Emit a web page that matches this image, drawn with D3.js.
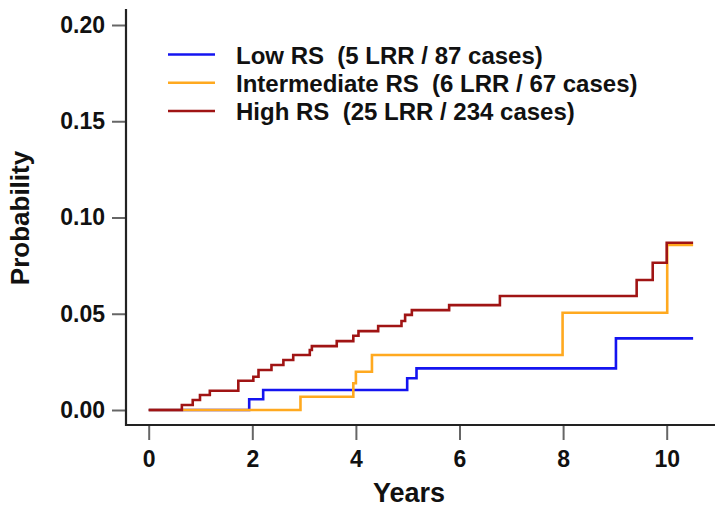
<!DOCTYPE html>
<html>
<head>
<meta charset="utf-8">
<script src="https://cdn.jsdelivr.net/npm/d3@7"></script>
<style>
  html, body { margin: 0; padding: 0; background: #fff; }
  svg { display: block; font-family: "Liberation Sans", Arial, Helvetica, sans-serif; }
</style>
</head>
<body>
<svg id="chart" width="724" height="513"></svg>
<script>
// ---- data ----
const xTicks = [0, 2, 4, 6, 8, 10];
const yTicks = [0.00, 0.05, 0.10, 0.15, 0.20];
const seriesNames = ["Low RS  (5 LRR / 87 cases)", "Intermediate RS  (6 LRR / 67 cases)", "High RS  (25 LRR / 234 cases)"];
const seriesColors = ["#1414f0", "#ffa91f", "#a01414"];

const lowTimes = [0, 1.94, 2.21, 4.99, 5.17, 9.02, 10.51];
const lowProb  = [0, 0.0056, 0.0104, 0.0165, 0.0216, 0.0372, 0.0372];

const intTimes = [0, 2.93, 3.95, 4.00, 4.31, 7.99, 10.01, 10.51];
const intProb  = [0, 0.0069, 0.0139, 0.0199, 0.0286, 0.0505, 0.0857, 0.0857];

const highTimes = [0, 0.64, 0.85, 0.99, 1.18, 1.73, 2.02, 2.12, 2.37, 2.60, 2.79, 3.11, 3.15, 3.63, 3.95, 4.05, 4.43, 4.88, 4.95, 5.08, 5.80, 6.78, 9.42, 9.73, 10.00, 10.51];
const highProb  = [0, 0.0026, 0.0052, 0.0078, 0.0100, 0.0152, 0.0173, 0.0208, 0.0234, 0.0260, 0.0286, 0.0312, 0.0332, 0.0358, 0.0386, 0.0410, 0.0436, 0.0462, 0.0494, 0.0519, 0.0545, 0.0592, 0.0675, 0.0765, 0.0869, 0.0869];

// ---- layout ----
const svg = d3.select("#chart");
const x = d3.scaleLinear().domain([0, 10]).range([148.7, 666.7]);
const y = d3.scaleLinear().domain([0, 0.2]).range([410, 25]);
const axisX = 126, axisY = 425;

// curves (low first, high on top)
const series = [
  { times: lowTimes, probs: lowProb },
  { times: intTimes, probs: intProb },
  { times: highTimes, probs: highProb }
];
const line = d3.line().x(d => x(d[0])).y(d => y(d[1])).curve(d3.curveStepAfter);
series.forEach((s, i) => {
  svg.append("path")
    .datum(s.times.map((t, j) => [t, s.probs[j]]))
    .attr("d", line)
    .attr("fill", "none")
    .attr("stroke", seriesColors[i])
    .attr("stroke-width", 2.6);
});

// axes
const yAxis = d3.axisLeft(y).tickValues(yTicks).tickFormat(d3.format(".2f")).tickSize(14).tickPadding(7);
const gy = svg.append("g").attr("transform", `translate(${axisX},0)`).call(yAxis);
const xAxis = d3.axisBottom(x).tickValues(xTicks).tickFormat(d3.format("d")).tickSize(14).tickPadding(11);
const gx = svg.append("g").attr("transform", `translate(0,${axisY + 1})`).call(xAxis);
[gx, gy].forEach(g => {
  g.select(".domain").remove();
  g.selectAll(".tick line").attr("stroke", "#666").attr("stroke-width", 2);
  g.selectAll(".tick text").attr("fill", "#111").style("font-size", "23px").style("font-weight", "bold")
   .style("font-family", "'Liberation Sans', Arial, sans-serif");
});

// L-shaped frame
svg.append("path")
  .attr("d", `M${axisX},9 L${axisX},${axisY} L715,${axisY}`)
  .attr("fill", "none").attr("stroke", "#222").attr("stroke-width", 2.2);

// axis titles
svg.append("text")
  .attr("x", 409).attr("y", 502)
  .attr("text-anchor", "middle")
  .style("font-size", "27px").style("font-weight", "bold").attr("fill", "#111")
  .text("Years");
svg.append("text")
  .attr("transform", "translate(29,218) rotate(-90)")
  .attr("text-anchor", "middle")
  .style("font-size", "26px").style("font-weight", "bold").attr("fill", "#111")
  .text("Probability");

// legend
const legendY = [54.5, 82.7, 111];
seriesNames.forEach((name, i) => {
  svg.append("line")
    .attr("x1", 168).attr("x2", 215)
    .attr("y1", legendY[i]).attr("y2", legendY[i])
    .attr("stroke", seriesColors[i]).attr("stroke-width", 2.4);
  svg.append("text")
    .attr("x", 236).attr("y", legendY[i] + 9)
    .attr("xml:space", "preserve")
    .style("white-space", "pre")
    .style("font-size", "24px").style("font-weight", "bold").attr("fill", "#111")
    .text(name);
});
</script>
</body>
</html>
